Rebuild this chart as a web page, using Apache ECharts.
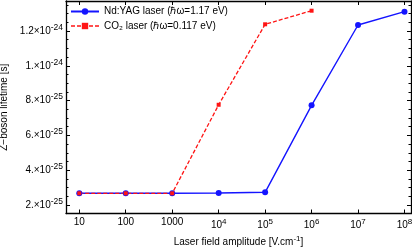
<!DOCTYPE html>
<html><head><meta charset="utf-8">
<script src="https://cdn.jsdelivr.net/npm/echarts@6/dist/echarts.min.js"></script>
<style>html,body{margin:0;padding:0;background:#fff}#c{width:412px;height:247px}</style>
</head><body><div id="c"></div>
<script>
// Laser field amplitudes [V/cm]
const fieldNd = [10, 100, 1000, 1e4, 1e5, 1e6, 1e7, 1e8];
const lifetimeNd = [2.672e-25, 2.672e-25, 2.672e-25, 2.69e-25, 2.73e-25, 7.73e-25, 1.2345e-24, 1.311e-24];
const fieldCO2 = [10, 100, 1000, 1e4, 1e5, 1e6];
const lifetimeCO2 = [2.672e-25, 2.672e-25, 2.672e-25, 7.76e-25, 1.2385e-24, 1.3166e-24];
const xTickExp = [1, 2, 3, 4, 5, 6, 7, 8];
const yTickValues = [2e-25, 4e-25, 6e-25, 8e-25, 1e-24, 1.2e-24];
const yTickMant = ['2.', '4.', '6.', '8.', '1.', '1.2'];
const yTickExp = ['-25', '-25', '-25', '-25', '-24', '-24'];
const seriesNames = ['Nd:YAG laser (ℏω=1.17 eV)', 'CO₂ laser (ℏω=0.117 eV)'];

const yMin = 1.5115e-25, yMax = 1.3724e-24;
const yMinor = [];
for (let v = 2.5e-25; v < yMax; v += 5e-26) {
  if (!yTickValues.some(t => Math.abs(t - v) < 1e-27)) yMinor.push(v);
}
const FONT = 'Liberation Sans, Arial, sans-serif';
const sup = { fontSize: 8.5, fontFamily: FONT, color: '#000', padding: [0, 0, 7, 0] };
const supX = { fontSize: 8, fontFamily: FONT, color: '#000', padding: [0, 0, 7, 0] };
const base = { fontSize: 10, fontFamily: FONT, color: '#000' };

function yLabel(v) {
  const i = yTickValues.findIndex(t => Math.abs(t - v) < 1e-27);
  if (i < 0) return '';
  return '{b|' + yTickMant[i] + '×10}{s|' + yTickExp[i] + '}';
}
function xLabel(e) {
  const r = Math.round(e);
  if (r <= 3) return '{b|' + Math.pow(10, r) + '}';
  return '{b|10}{s|' + r + '}';
}
const lineCol = '#000';
const xCommon = {
  type: 'value', min: 0.714, max: 8.14,
  splitLine: { show: false },
  axisLine: { show: true, onZero: false, lineStyle: { color: lineCol, width: 1.3 } },
  axisTick: { show: true, inside: true, length: 4, customValues: xTickExp, lineStyle: { color: lineCol } }
};
const yCommon = {
  type: 'value', min: yMin, max: yMax,
  splitLine: { show: false },
  axisLine: { show: true, onZero: false, lineStyle: { color: lineCol, width: 1.3 } },
  axisTick: { show: true, inside: true, length: 4, customValues: yTickValues, lineStyle: { color: lineCol } }
};
const yMinorAx = (pos) => ({
  type: 'value', min: yMin, max: yMax, position: pos,
  splitLine: { show: false }, axisLine: { show: false }, axisLabel: { show: false },
  axisTick: { show: true, inside: true, length: 2.5, customValues: yMinor, lineStyle: { color: lineCol } }
});

const chart = echarts.init(document.getElementById('c'), null, { renderer: 'canvas' });
chart.setOption({
  animation: false,
  backgroundColor: '#fff',
  grid: { left: 66, right: 1, top: 1, bottom: 33.5, containLabel: false, outerBoundsMode: 'none' },
  legend: {
    orient: 'vertical', left: 70, top: 6.5, padding: 0, itemWidth: 28, itemHeight: 8, itemGap: 4.5,
    data: [
      { name: seriesNames[0] },
      { name: seriesNames[1], lineStyle: { type: [4, 2], width: 1.3, color: '#ff1414' } }
    ],
    textStyle: { fontSize: 10, fontFamily: FONT, color: '#000' }
  },
  xAxis: [
    Object.assign({}, xCommon, {
      position: 'bottom',
      axisLabel: { show: true, margin: 4, customValues: xTickExp, formatter: xLabel, rich: { b: base, s: supX } },
      name: '{b|Laser field amplitude [V.cm}{s|-1}{b|]}', nameLocation: 'middle', nameGap: 20,
      nameTextStyle: { rich: { b: base, s: supX } }
    }),
    Object.assign({}, xCommon, { position: 'top', axisLabel: { show: false } })
  ],
  yAxis: [
    Object.assign({}, yCommon, {
      position: 'left',
      axisLabel: { show: true, margin: 3, customValues: yTickValues, formatter: yLabel, rich: { b: base, s: sup } },
      name: 'Z−boson lifetime [s]', nameLocation: 'middle', nameGap: 51,
      nameTextStyle: { fontSize: 10, fontFamily: FONT, color: '#000' }
    }),
    Object.assign({}, yCommon, { position: 'right', axisLabel: { show: false } }),
    yMinorAx('left'),
    yMinorAx('right')
  ],
  series: [
    {
      name: seriesNames[0], type: 'line', xAxisIndex: 0, yAxisIndex: 0,
      data: fieldNd.map((f, i) => [Math.log10(f), lifetimeNd[i]]),
      symbol: 'circle', symbolSize: 6,
      lineStyle: { color: '#1414ff', width: 1.4 },
      itemStyle: { color: '#1414ff' }
    },
    {
      name: seriesNames[1], type: 'line', xAxisIndex: 0, yAxisIndex: 0,
      data: fieldCO2.map((f, i) => [Math.log10(f), lifetimeCO2[i]]),
      symbol: 'rect', symbolSize: 4,
      lineStyle: { color: '#ff1414', width: 1.3, type: [4, 2] },
      itemStyle: { color: '#ff1414' }
    }
  ]
});
</script></body></html>
